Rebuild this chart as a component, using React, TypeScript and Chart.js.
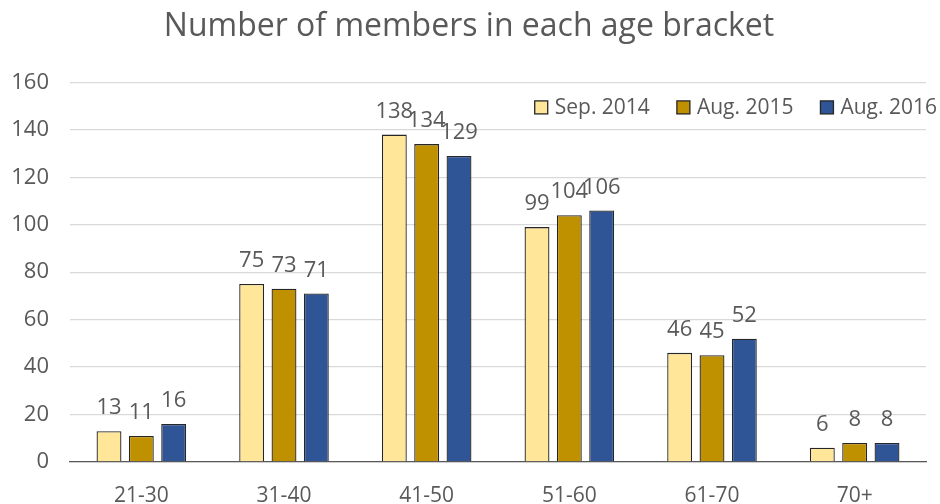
import React, { useEffect, useRef } from "react";
import { Chart, registerables } from "chart.js";

Chart.register(...registerables);

const categories = ["21-30", "31-40", "41-50", "51-60", "61-70", "70+"];
const seriesLabels = ["Sep. 2014", "Aug. 2015", "Aug. 2016"];
const sep2014 = [13, 75, 138, 99, 46, 6];
const aug2015 = [11, 73, 134, 104, 45, 8];
const aug2016 = [16, 71, 129, 106, 52, 8];
const colors = ["#FFE699", "#BF9000", "#2F5597"];
const yTicks = [0, 20, 40, 60, 80, 100, 120, 140, 160];

const FONT = "'Open Sans', sans-serif";
const TEXT = "#595959";
const EDGE = "#262626";

const valueLabels = {
  id: "valueLabels",
  afterDatasetsDraw(chart: any) {
    const ctx = chart.ctx;
    ctx.save();
    ctx.font = `22px ${FONT}`;
    ctx.fillStyle = TEXT;
    ctx.textAlign = "center";
    ctx.textBaseline = "alphabetic";
    chart.data.datasets.forEach((ds: any, i: number) => {
      const meta = chart.getDatasetMeta(i);
      meta.data.forEach((el: any, j: number) => {
        ctx.fillText(String(ds.data[j]), el.x, el.y - 17);
      });
    });
    ctx.restore();
  },
};

const insideLegend = {
  id: "insideLegend",
  afterDraw(chart: any) {
    const ctx = chart.ctx;
    const area = chart.chartArea;
    ctx.save();
    ctx.font = `21px ${FONT}`;
    ctx.textBaseline = "middle";
    ctx.textAlign = "left";
    const box = 13;
    const gapBoxText = 7;
    const gapItems = 27;
    const items = chart.data.datasets.map((ds: any) => ({
      label: ds.label,
      color: ds.backgroundColor,
      w: ctx.measureText(ds.label).width,
    }));
    let x = area.right + 11;
    const cy = area.top + 25;
    for (let i = items.length - 1; i >= 0; i--) {
      const it = items[i];
      const textX = x - it.w;
      const boxX = textX - gapBoxText - box;
      ctx.fillStyle = it.color;
      ctx.fillRect(boxX, cy - box / 2, box, box);
      ctx.strokeStyle = EDGE;
      ctx.lineWidth = 1.3;
      ctx.strokeRect(boxX, cy - box / 2, box, box);
      ctx.fillStyle = TEXT;
      ctx.fillText(it.label, textX, cy + 1);
      x = boxX - gapItems;
    }
    ctx.restore();
  },
};

export default function App() {
  const ref = useRef<HTMLCanvasElement>(null);
  useEffect(() => {
    if (!ref.current) return;
    const data = [sep2014, aug2015, aug2016];
    const chart = new Chart(ref.current, {
      type: "bar",
      data: {
        labels: categories,
        datasets: seriesLabels.map((label, i) => ({
          label,
          data: data[i],
          backgroundColor: colors[i],
          borderColor: EDGE,
          borderWidth: 1.3,
          categoryPercentage: 0.68,
          barPercentage: 0.77,
        })),
      },
      options: {
        animation: false,
        responsive: false,
        maintainAspectRatio: false,
        layout: { padding: { left: 12, right: 14, top: 0, bottom: 0 } },
        plugins: {
          title: {
            display: true,
            text: "Number of members in each age bracket",
            color: TEXT,
            font: { family: FONT, size: 32, weight: "normal" },
            padding: { top: 8, bottom: 36 },
          },
          legend: { display: false },
          tooltip: { enabled: false },
        },
        scales: {
          x: {
            grid: { display: false, drawTicks: false },
            border: { color: "#595959", width: 1.3 },
            ticks: { color: TEXT, font: { family: FONT, size: 21 }, padding: 21 },
            afterFit: (axis: any) => {
              axis.height = 42;
            },
          },
          y: {
            min: 0,
            max: 160,
            afterBuildTicks: (axis: any) => {
              axis.ticks = yTicks.map((v) => ({ value: v }));
            },
            grid: { color: "#d9d9d9", drawTicks: false, lineWidth: 1.3 },
            border: { display: false },
            ticks: { color: TEXT, font: { family: FONT, size: 22 }, padding: 21 },
            afterFit: (axis: any) => {
              axis.width = 58;
            },
          },
        },
      },
      plugins: [valueLabels, insideLegend],
    });
    return () => chart.destroy();
  }, []);
  return (
    <div style={{ position: "fixed", left: 0, top: 0, width: 940, height: 504, background: "#fff" }}>
      <canvas ref={ref} width={940} height={504} style={{ width: 940, height: 504 }} />
    </div>
  );
}
